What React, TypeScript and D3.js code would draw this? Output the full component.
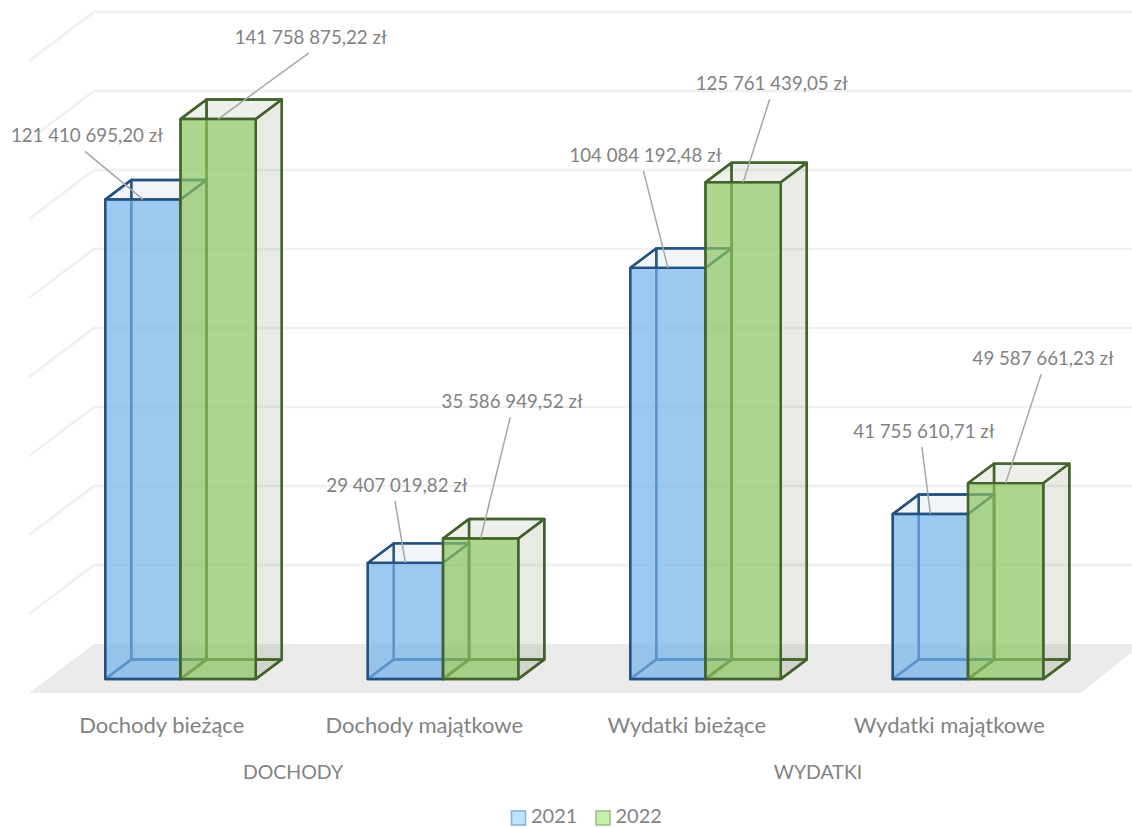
import React from "react";
import * as d3 from "d3";

const categories = ["Dochody bieżące", "Dochody majątkowe", "Wydatki bieżące", "Wydatki majątkowe"];
const groups = ["DOCHODY", "WYDATKI"];
const seriesNames = ["2021", "2022"];
const values2021 = [121410695.2, 29407019.82, 104084192.48, 41755610.71];
const values2022 = [141758875.22, 35586949.52, 125761439.05, 49587661.23];
const labels2021 = ["121 410 695,20 zł", "29 407 019,82 zł", "104 084 192,48 zł", "41 755 610,71 zł"];
const labels2022 = ["141 758 875,22 zł", "35 586 949,52 zł", "125 761 439,05 zł", "49 587 661,23 zł"];
const gridTicks = [0, 20e6, 40e6, 60e6, 80e6, 100e6, 120e6, 140e6, 160e6];

// label position relative to the front-top centre of its bar
const offsets2021 = [[-56, -64], [-8.5, -78], [-22.5, -113], [-6.5, -83]];
const offsets2022 = [[92.5, -82], [31.5, -137], [28.5, -99], [37.5, -125]];

const W = 1132, H = 827;
const FONT = "Lato, Carlito, Calibri, sans-serif";
const TXT = "#828282";
const y = d3.scaleLinear().domain([0, 160e6]).range([679, 47]);
const x0 = d3.scaleBand<string>().domain(categories).range([50, 1100]).paddingInner(0).paddingOuter(0);
const x1 = d3.scaleBand<string>().domain(seriesNames).range([0, 150.5]);
const DX = 26, DY = -19.5;
const WALL_DX = 65, WALL_DY = -49, FRONT_DY = 14, WALL_LEFT = 29;

const poly = (pts: number[][]) => d3.line()(pts as [number, number][]) + "Z";

const styles = [
  { front: "rgba(116,178,235,0.7)", side: "rgba(116,160,200,0.12)", stroke: "#24527f", swatch: "#bde4fd", swatchStroke: "#8cb1da" },
  { front: "rgba(139,196,96,0.7)", side: "rgba(90,110,60,0.14)", stroke: "#43622c", swatch: "#c9f0a8", swatchStroke: "#a3c08c" },
];

function Box({ x, w, v, s }: { x: number; w: number; v: number; s: typeof styles[0] }) {
  const b = y(0), t = y(v);
  const f1 = [x, t], f2 = [x + w, t], f3 = [x + w, b], f4 = [x, b];
  const bk = (p: number[]) => [p[0] + DX, p[1] + DY];
  const stroke = { stroke: s.stroke, strokeWidth: 2.4, strokeLinejoin: "round" as const };
  return (
    <g>
      <path d={poly([bk(f1), bk(f2), bk(f3), bk(f4)])} fill="none" {...stroke} />
      <path d={poly([f1, bk(f1), bk(f4), f4])} fill="none" {...stroke} />
      <path d={poly([f4, f3, bk(f3), bk(f4)])} fill="rgba(0,0,0,0.02)" {...stroke} />
      <path d={poly([f2, bk(f2), bk(f3), f3])} fill={s.side} {...stroke} />
      <path d={poly([f1, f2, bk(f2), bk(f1)])} fill={s.side.replace(/[\d.]+\)$/, "0.1)")} {...stroke} />
      <path d={poly([f1, f2, f3, f4])} fill={s.front} {...stroke} />
    </g>
  );
}

export default function App() {
  const series = [values2021, values2022];
  const texts = [labels2021, labels2022];
  const offs = [offsets2021, offsets2022];
  const midpoint = (a: number, b: number) => (x0(categories[a])! + x0(categories[b])! + x0.bandwidth()) / 2;
  return (
    <svg width={W} height={H} style={{ position: "absolute", left: 0, top: 0 }} fontFamily={FONT}>
      <rect width={W} height={H} fill="#fff" />
      {gridTicks.slice(1).map((t) => {
        const yf = y(t) + FRONT_DY;
        return (
          <path key={t} fill="none" stroke="#f0f0f0" strokeWidth={2.6}
            d={d3.line()([[WALL_LEFT, yf], [WALL_LEFT + WALL_DX, yf + WALL_DY], [W, yf + WALL_DY]])!} />
        );
      })}
      <path fill="#ebebeb"
        d={poly([[WALL_LEFT, y(0) + FRONT_DY], [WALL_LEFT + WALL_DX, y(0) + FRONT_DY + WALL_DY], [W, y(0) + FRONT_DY + WALL_DY], [W, y(0) + FRONT_DY + WALL_DY + 8], [1081, y(0) + FRONT_DY]])} />
      {categories.map((c, i) => (
        <g key={c}>
          {seriesNames.map((n, k) => (
            <Box key={n} x={x0(c)! + 55.3 + x1(n)!} w={x1.bandwidth()} v={series[k][i]} s={styles[k]} />
          ))}
        </g>
      ))}
      {categories.map((c, i) => seriesNames.map((n, k) => {
        const cx = x0(c)! + 55.3 + x1(n)! + x1.bandwidth() / 2;
        const ty = y(series[k][i]);
        const [dx, dy] = offs[k][i];
        return (
          <g key={c + n}>
            <line x1={cx + dx - 2} y1={ty + dy + 16} x2={cx} y2={ty} stroke="#a6a6a6" strokeWidth={1.5} />
            <text x={cx + dx} y={ty + dy} textAnchor="middle" dominantBaseline="central" fontSize={18.7} fill={TXT}>{texts[k][i]}</text>
          </g>
        );
      }))}
      {categories.map((c) => (
        <text key={c} x={x0(c)! + x0.bandwidth() / 2 - 19.5} y={724} textAnchor="middle" dominantBaseline="central" fontSize={22} fill={TXT}>{c}</text>
      ))}
      {groups.map((g, i) => (
        <text key={g} x={midpoint(i * 2, i * 2 + 1) - 19.5} y={771} textAnchor="middle" dominantBaseline="central" fontSize={19.5} fill={TXT}>{g}</text>
      ))}
      {seriesNames.map((n, k) => (
        <g key={n} transform={`translate(${511 + k * 84.5},0)`}>
          <rect x={0.5} y={811} width={14} height={14} fill={styles[k].swatch} stroke={styles[k].swatchStroke} strokeWidth={1.6} />
          <text x={20} y={815} dominantBaseline="central" fontSize={20} fill={TXT}>{n}</text>
        </g>
      ))}
    </svg>
  );
}
